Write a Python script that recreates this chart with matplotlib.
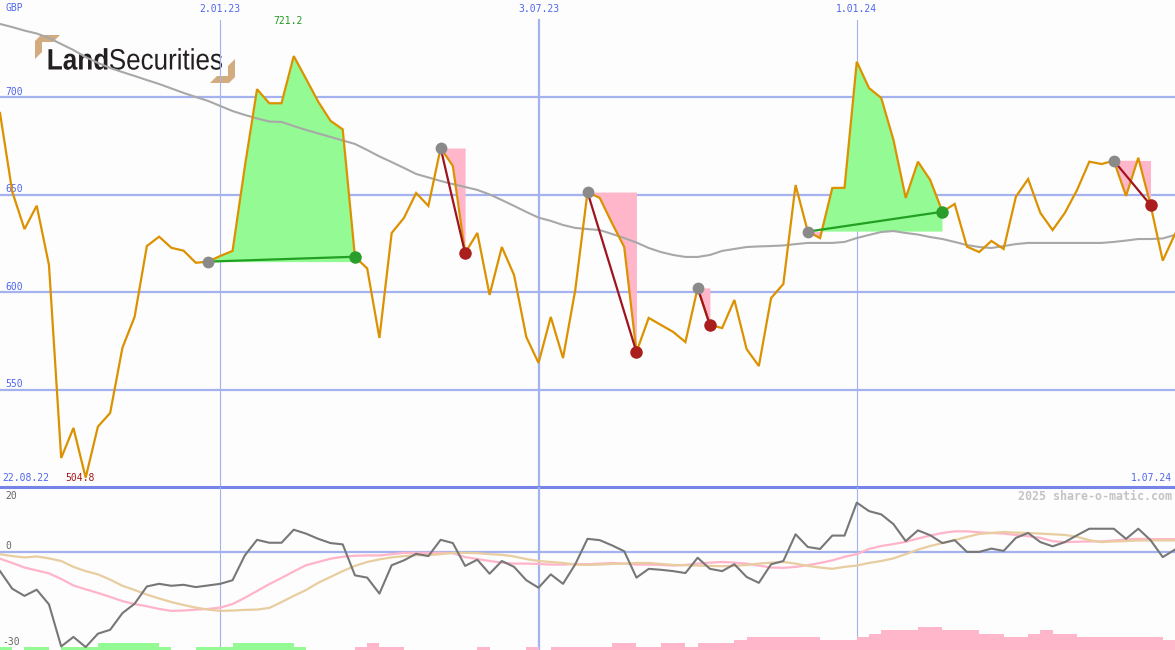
import numpy as np
import pandas as pd
import matplotlib
matplotlib.use("Agg")
import matplotlib.pyplot as plt
import matplotlib.dates as mdates
from matplotlib.textpath import TextPath
from matplotlib.font_manager import FontProperties
from matplotlib.patches import PathPatch, Polygon
from matplotlib.transforms import Affine2D, blended_transform_factory

# ---------------- data ----------------
start_date = "2022-08-29"
end_date = "2024-07-01"
n_points = 97

price = [692.0, 651.6, 632.4, 644.4, 614.0, 514.9, 530.3, 504.8, 531.0, 538.0,
         571.4, 587.4, 623.7, 628.5, 622.8, 621.3, 615.1, 615.7, 618.6, 621.2,
         664.3, 704.2, 697.0, 697.0, 721.2, 709.6, 697.8, 688.0, 683.6, 618.2,
         612.2, 576.5, 630.4, 638.1, 650.9, 644.3, 674.0, 664.8, 620.1, 630.4,
         598.6, 623.2, 608.8, 577.0, 563.7, 587.3, 566.2, 601.1, 651.4, 648.4,
         635.5, 623.2, 569.3, 586.8, 583.2, 579.6, 574.4, 602.2, 583.2, 581.6,
         596.0, 570.8, 562.1, 597.0, 604.2, 655.0, 631.1, 627.8, 653.5, 653.6,
         718.3, 704.8, 699.7, 678.1, 648.4, 667.0, 657.6, 641.3, 645.3, 623.4,
         620.6, 626.3, 622.2, 649.0, 658.1, 640.7, 631.9, 640.7, 652.5, 667.0,
         665.8, 667.5, 649.4, 669.0, 644.8, 616.2, 629.9]

ma_long = [737.7, 736.1, 734.3, 732.8, 730.5, 727.4, 724.3, 720.7, 717.7, 715.1,
           713.0, 711.0, 708.9, 706.9, 704.6, 702.3, 700.2, 698.2, 695.6, 693.0,
           691.0, 689.2, 687.6, 687.4, 685.3, 683.3, 681.5, 679.7, 677.9, 676.1,
           673.0, 669.7, 666.8, 663.8, 660.7, 658.9, 657.1, 655.5, 654.0, 652.5,
           650.2, 647.3, 644.3, 641.2, 638.3, 636.6, 634.5, 633.0, 632.4, 631.9,
           629.9, 627.8, 625.5, 622.7, 620.6, 619.1, 618.1, 618.1, 619.1, 621.2,
           622.2, 623.2, 623.5, 623.7, 624.0, 624.7, 625.3, 625.3, 625.3, 625.8,
           627.8, 629.4, 630.9, 631.4, 630.4, 629.6, 628.3, 627.3, 625.8, 624.2,
           623.2, 622.7, 623.7, 624.7, 625.3, 625.3, 625.3, 625.3, 625.3, 625.3,
           625.3, 625.8, 626.5, 627.3, 627.3, 627.6, 629.4]

osc = [-5.8, -11.2, -13.4, -11.5, -16.0, -28.9, -26.0, -29.1, -25.0, -23.8,
       -18.7, -15.8, -10.5, -9.7, -10.3, -10.0, -10.7, -10.2, -9.7, -8.6,
       -1.0, 3.8, 2.9, 2.9, 6.9, 5.7, 4.1, 2.8, 2.4, -7.1,
       -7.8, -12.7, -4.0, -2.5, -0.5, -1.2, 3.8, 2.8, -4.2, -2.3,
       -6.6, -2.7, -4.5, -8.6, -10.9, -6.8, -9.7, -3.7, 4.1, 3.7,
       2.1, 0.3, -7.8, -5.1, -5.4, -5.8, -6.4, -1.7, -5.1, -5.8,
       -3.7, -7.6, -9.4, -3.7, -2.7, 5.5, 1.6, 1.0, 5.1, 5.1,
       15.2, 12.6, 11.6, 8.6, 3.4, 6.7, 5.2, 2.8, 3.7, 0.1,
       0.1, 1.1, 0.4, 4.4, 5.9, 3.1, 1.8, 3.1, 5.2, 7.2,
       7.2, 7.2, 4.1, 7.2, 3.7, -1.5, 0.8]

osc_fast = [-2.0, -3.3, -4.7, -5.6, -6.5, -8.2, -10.2, -11.4, -12.5, -13.7,
            -15.0, -15.9, -16.6, -17.4, -18.0, -17.9, -17.6, -17.4, -17.0, -15.9,
            -14.0, -11.9, -9.8, -7.9, -5.9, -4.0, -3.0, -2.0, -1.4, -1.1,
            -1.0, -1.0, -0.6, -0.2, -0.2, -0.2, -0.2, -0.3, -1.5, -2.1,
            -2.7, -3.2, -3.5, -3.5, -3.6, -3.8, -3.8, -3.6, -3.7, -3.5,
            -3.3, -3.5, -3.8, -3.8, -3.9, -4.1, -3.9, -3.5, -3.2, -3.0,
            -3.2, -3.5, -4.1, -4.7, -4.8, -4.5, -4.0, -3.3, -2.5, -1.4,
            -0.6, 1.0, 1.9, 2.5, 3.2, 4.2, 5.1, 5.9, 6.4, 6.4,
            6.1, 5.9, 5.7, 5.3, 4.9, 4.4, 3.4, 3.1, 3.2, 3.3,
            3.3, 3.6, 3.9, 4.1, 4.0, 4.0, 4.0]

osc_slow = [-0.6, -1.2, -1.6, -1.3, -1.9, -2.7, -4.5, -5.8, -6.8, -8.4,
            -10.3, -11.6, -13.0, -14.2, -15.3, -16.2, -17.0, -17.6, -18.0, -17.9,
            -17.7, -17.6, -17.1, -15.3, -13.4, -11.6, -9.4, -7.6, -5.8, -4.2,
            -3.0, -2.2, -1.6, -1.2, -0.9, -0.9, -0.6, -0.2, -0.2, -0.3,
            -0.6, -0.8, -1.3, -2.1, -2.7, -3.0, -3.3, -3.8, -3.9, -3.8,
            -3.6, -3.5, -3.3, -3.3, -3.6, -3.9, -4.0, -4.1, -4.2, -4.3,
            -4.2, -3.9, -3.5, -3.2, -3.0, -3.5, -4.2, -4.7, -5.1, -4.5,
            -4.1, -3.3, -2.7, -1.9, -0.6, 0.8, 1.9, 2.8, 3.7, 4.7,
            5.6, 5.9, 6.2, 6.0, 5.9, 5.7, 5.5, 5.3, 4.7, 3.7,
            3.1, 3.3, 3.4, 3.6, 3.6, 3.6, 3.6]

signal = [1, 0, 1, 1, 0, 1, 1, 1, 2, 2,
          2, 2, 2, 1, 0, 0, 1, 1, 1, 2,
          2, 2, 2, 2, 1, 0, 0, 0, 0, -1,
          -2, -1, -1, 0, 0, 0, 0, 0, 0, -1,
          0, 0, 0, -1, 0, -1, -1, -1, -1, -1,
          -2, -2, -1, -1, -2, -2, -1, -2, -2, -2,
          -3, -4, -4, -4, -4, -4, -4, -3, -3, -3,
          -4, -5, -6, -6, -6, -7, -7, -6, -6, -6,
          -5, -5, -4, -4, -5, -6, -5, -5, -4, -4,
          -4, -4, -4, -4, -4, -3, -3]

trade_entry = [17, 36, 48, 57, 66, 91]
trade_exit = [29, 38, 52, 58, 77, 94]

vline_dates = ["2023-01-02", "2023-07-03", "2024-01-01"]
vline_labels = ["2.01.23", "3.07.23", "1.01.24"]
main_ticks = [550, 600, 650, 700]
low_ticks = [20, 0, -30]
start_label = "22.08.22"
end_label = "1.07.24"
currency = "GBP"

# ---------------- styles ----------------
BG = "#FCFDFC"
GRID = "#A4B2F0"
SEP = "#7684E8"
LBL = "#5066F0"
ORANGE = "#DC9200"
GREYMA = "#A8A8A8"
FILL_G = "#94FA94"
FILL_P = "#FFB6CA"
MONO = "DejaVu Sans Mono"

x = mdates.date2num(pd.date_range(start_date, periods=n_points, freq="7D"))
price_a = np.array(price)
xmin, xmax = mdates.date2num(pd.Timestamp(start_date)), mdates.date2num(pd.Timestamp(end_date))

fig = plt.figure(figsize=(11.75, 6.5), dpi=100, facecolor=BG)

# overlay for logo (behind)
ov = fig.add_axes([0, 0, 1, 1], zorder=0)
ov.set_xlim(0, 1175)
ov.set_ylim(650, 0)
ov.axis("off")
ov.set_facecolor(BG)

ax = fig.add_axes([0, 163 / 650, 1, 487 / 650], zorder=2)
ax2 = fig.add_axes([0, 0, 1, 163 / 650], zorder=2)
for a in (ax, ax2):
    a.patch.set_alpha(0)
    a.set_xlim(xmin, xmax)
    a.set_xticks([])
    a.set_yticks([])
    for s in a.spines.values():
        s.set_visible(False)
ax.set_ylim(500, 750)
ax2.set_ylim(-30, 20)
ax.spines["bottom"].set_visible(True)
ax.spines["bottom"].set_color(SEP)
ax.spines["bottom"].set_linewidth(2.2)

# logo
def logo_word(s, weight, x0, x1, base, em):
    tp = TextPath((0, 0), s, size=1, prop=FontProperties(family="Liberation Sans", weight=weight))
    ext = tp.get_extents()
    sx = (x1 - x0) / ext.width
    tr = Affine2D().translate(-ext.x0, 0).scale(sx, -em).translate(x0, base)
    ov.add_patch(PathPatch(tr.transform_path(tp), fc="#231F20", ec="none", zorder=1))

logo_word("Land", "bold", 48.5, 107.5, 69.5, 29.5)
logo_word("Securities", "normal", 110, 222, 69.5, 29.5)
TAN = "#D2AB7E"
ov.add_patch(Polygon([(41, 35), (60, 35), (53, 42), (42, 42), (42, 52), (35, 59), (35, 41)],
                     closed=True, fc=TAN, ec="none"))
ov.add_patch(Polygon([(229, 83), (210, 83), (217, 76), (228, 76), (228, 66), (235, 59), (235, 77)],
                     closed=True, fc=TAN, ec="none"))

# grid
for t in main_ticks:
    ax.axhline(t, color=GRID, lw=1.6, zorder=1)
ax2.axhline(0, color=GRID, lw=1.6, zorder=1)
vl_x = [mdates.date2num(pd.Timestamp(d)) for d in vline_dates]
vl_w = [0.8, 1.6, 0.8]
for vx, w in zip(vl_x, vl_w):
    ax.axvline(vx, ymin=0, ymax=1 - 20 / 487, color=GRID, lw=w, zorder=1)
    ax2.axvline(vx, color=GRID, lw=w, zorder=1)

# trade fills
for e, q in zip(trade_entry, trade_exit):
    xs = x[e:q + 1]
    ps = price_a[e:q + 1]
    lvl = price_a[e]
    ax.fill_between(xs, lvl, ps, where=ps >= lvl, interpolate=True, color=FILL_G, lw=0, zorder=2)
    ax.fill_between(xs, lvl, ps, where=ps <= lvl, interpolate=True, color=FILL_P, lw=0, zorder=2)

ax.plot(x, ma_long, color=GREYMA, lw=1.5, zorder=3)
ax.plot(x, price, color=ORANGE, lw=1.6, zorder=4, solid_joinstyle="miter")

for e, q in zip(trade_entry, trade_exit):
    win = price[q] >= price[e]
    lc = "#22A022" if win else "#A0141E"
    dc = "#2A9E2A" if win else "#AA1E1E"
    ax.plot([x[e], x[q]], [price[e], price[q]], color=lc, lw=1.6, zorder=5)
    ax.plot(x[e], price[e], "o", ms=8.5, color="#8A8A8A", mec="none", zorder=6)
    ax.plot(x[q], price[q], "o", ms=9, color=dc, mec="none", zorder=6)

# labels main
tr_y = blended_transform_factory(ax.transAxes, ax.transData)
tr_x = blended_transform_factory(ax.transData, ax.transAxes)
for t in main_ticks:
    ax.text(5 / 1175, t + 2.9, str(t), transform=tr_y, color=LBL, fontsize=7, family=MONO,
            ha="left", va="center")
ax.text(5 / 1175, 1 - 8 / 487, currency, transform=ax.transAxes, color=LBL, fontsize=7,
        family=MONO, ha="left", va="center")
for vx, lab in zip(vl_x, vline_labels):
    ax.text(vx, 1 - 9 / 487, lab, transform=tr_x, color=LBL, fontsize=7, family=MONO,
            ha="center", va="center")
imax = int(np.argmax(price_a))
imin = int(np.argmin(price_a))
ax.text(x[imax] - 3, 1 - 21 / 487, f"{price[imax]:.1f}", transform=tr_x, color="#229922",
        fontsize=7, family=MONO, ha="center", va="center")
ax.text(x[imin] - 3, 9 / 487, f"{price[imin]:.1f}", transform=tr_x, color="#A01818",
        fontsize=7, family=MONO, ha="center", va="center")
ax.text(2 / 1175, 9 / 487, start_label, transform=ax.transAxes, color=LBL, fontsize=7,
        family=MONO, ha="left", va="center")
ax.text(1172 / 1175, 9 / 487, end_label, transform=ax.transAxes, color=LBL, fontsize=7,
        family=MONO, ha="right", va="center")

# lower panel
sig = np.array(signal, dtype=float)
bar_col = [FILL_G if v > 0 else FILL_P for v in sig]
ax2.bar(x, np.abs(sig), bottom=-30, width=7, align="edge", color=bar_col, lw=0, zorder=2)
ax2.plot(x, osc_fast, color="#FFB4CA", lw=1.6, zorder=3)
ax2.plot(x, osc_slow, color="#E8CDA0", lw=1.6, zorder=3)
ax2.plot(x, osc, color="#777777", lw=1.5, zorder=4)

tr2 = blended_transform_factory(ax2.transAxes, ax2.transData)
low_pos = {20: 17.2, 0: 1.8, -30: -27.4}
for t in low_ticks:
    ax2.text(5 / 1175 if t >= 0 else 2 / 1175, low_pos[t], str(t), transform=tr2,
             color="#666666", fontsize=7, family=MONO, ha="left", va="center")
ax2.text(1172 / 1175, 1 - 9 / 163, "2025 share-o-matic.com", transform=ax2.transAxes,
         color="#C4C4C4", fontsize=8.4, family=MONO, weight="bold", ha="right", va="center")

fig.savefig("out.png", dpi=100, facecolor=BG)
